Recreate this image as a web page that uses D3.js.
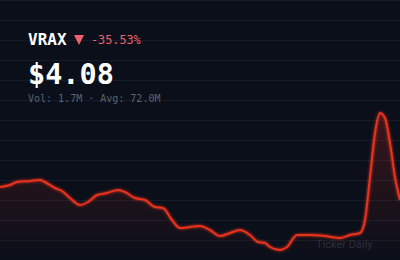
<!DOCTYPE html>
<html><head><meta charset="utf-8">
<script src="https://cdn.jsdelivr.net/npm/d3@7"></script>
<style>html,body{margin:0;padding:0;background:#0a0f1a;}svg{display:block;}</style>
</head><body>
<script>
const ticker = "VRAX";
const price = "$4.08";
const change = "-35.53%";
const volume = "Vol: 1.7M · Avg: 72.0M";
const watermark = "Ticker Daily";
// daily index and closing values
const days = [0,10,17,30,40,45,55,62,70,80,88,97,107,118,125,135,145,155,163,172,180,190,200,210,220,230,240,250,258,265,270,280,287,297,310,325,340,350,360,365,370,375,380,385,390,395,400];
const values = [7.3,7.5,7.8,7.9,8.0,7.8,7.2,6.9,6.2,5.5,5.8,6.5,6.7,7.0,6.8,6.2,6.0,5.3,5.2,4.0,3.2,3.3,3.4,3.0,2.4,2.7,3.0,2.5,1.8,1.7,1.3,1.0,1.3,2.5,2.5,2.4,2.2,2.5,2.7,4.0,8.3,12.7,14.7,14.2,11.7,8.3,6.0];
const W=400,H=260;
const svg=d3.select("body").append("svg").attr("width",W).attr("height",H);
svg.append("rect").attr("width",W).attr("height",H).attr("fill","#0a0f1a");
const x=d3.scaleLinear().domain([0,400]).range([0,W]);
const y=d3.scaleLinear().domain([0,26]).range([260,0]);
// grid
svg.append("g").selectAll("line").data(d3.range(0,261,20)).join("line")
  .attr("x1",0).attr("x2",W).attr("y1",d=>d+0.5).attr("y2",d=>d+0.5)
  .attr("stroke","#161b27").attr("stroke-width",1);
const defs=svg.append("defs");
const g=defs.append("linearGradient").attr("id","fill").attr("x1",0).attr("y1",0).attr("x2",0).attr("y2",1);
g.append("stop").attr("offset","0%").attr("stop-color","#e0301e").attr("stop-opacity",0.22);
g.append("stop").attr("offset","100%").attr("stop-color","#e0301e").attr("stop-opacity",0.0);
const f=defs.append("filter").attr("id","glow").attr("x","-10%").attr("y","-10%").attr("width","120%").attr("height","120%");
f.append("feGaussianBlur").attr("stdDeviation",1.6).attr("result","b");
const m=f.append("feMerge");m.append("feMergeNode").attr("in","b");m.append("feMergeNode").attr("in","SourceGraphic");
const data=days.map((d,i)=>({d,v:values[i]}));
const area=d3.area().x(p=>x(p.d)).y0(H).y1(p=>y(p.v)).curve(d3.curveMonotoneX);
const line=d3.line().x(p=>x(p.d)).y(p=>y(p.v)).curve(d3.curveMonotoneX);
svg.append("path").datum(data).attr("d",area).attr("fill","url(#fill)");
svg.append("path").datum(data).attr("d",line).attr("fill","none").attr("stroke","#e8321e").attr("stroke-width",2).attr("filter","url(#glow)");
// header
const mono="'DejaVu Sans Mono', 'Liberation Mono', monospace";
svg.append("text").attr("x",28).attr("y",45).attr("font-family",mono).attr("font-weight","bold").attr("font-size",16).attr("fill","#ffffff").text(ticker);
svg.append("path").attr("d","M74,35 L84,35 L79,45 Z").attr("fill","#f0606c");
svg.append("text").attr("x",91).attr("y",44).attr("font-family",mono).attr("font-size",11.8).attr("fill","#f0606c").text(change);
svg.append("text").attr("x",28).attr("y",84).attr("font-family",mono).attr("font-weight","bold").attr("font-size",28.5).attr("fill","#ffffff").text(price);
svg.append("text").attr("x",28).attr("y",102).attr("font-family",mono).attr("font-size",10).attr("fill","#5c6270").text(volume);
svg.append("text").attr("x",316).attr("y",248).attr("font-family","Roboto, sans-serif").attr("font-size",11).attr("fill","#2a2f3b").text(watermark);
</script>
</body></html>
